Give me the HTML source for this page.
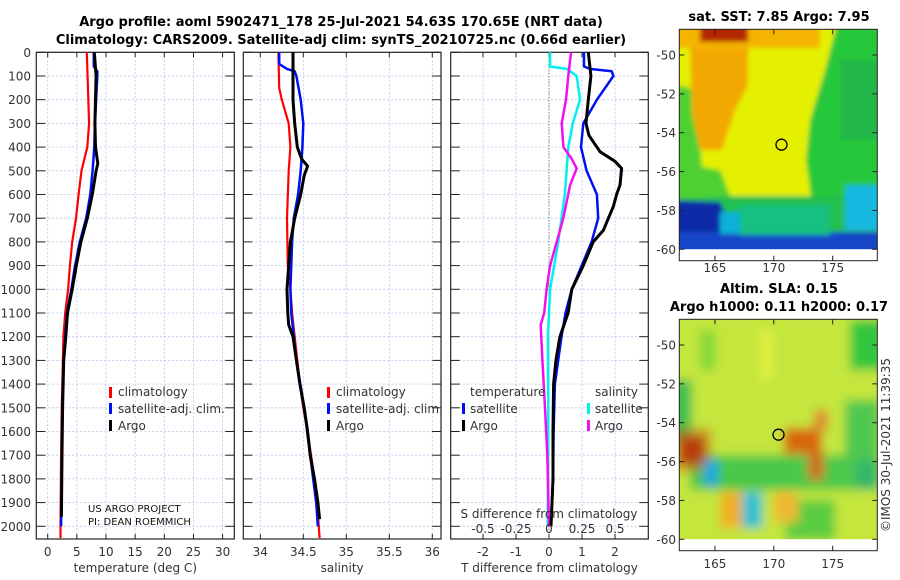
<!DOCTYPE html>
<html><head><meta charset="utf-8">
<style>
html,body{margin:0;padding:0;background:#fff;}
svg{display:block;font-family:"DejaVu Sans","Liberation Sans",sans-serif;}
.tk{font-size:12px;fill:#333;}
.ttl{font-size:13px;font-weight:bold;fill:#000;}
</style></head>
<body>
<svg id="chart" width="900" height="580" viewBox="0 0 900 580">
<defs>
<filter id="blur1" filterUnits="userSpaceOnUse" x="650" y="0" width="250" height="580"><feGaussianBlur stdDeviation="2.5"/></filter>
<filter id="blur2" filterUnits="userSpaceOnUse" x="650" y="0" width="250" height="580"><feGaussianBlur stdDeviation="5"/></filter>
<clipPath id="clipTop"><rect x="679.3" y="29.3" width="198" height="220"/></clipPath>
<clipPath id="clipBot"><rect x="679.3" y="319.3" width="198" height="220"/></clipPath>
</defs>
<text class="ttl" x="341" y="26" text-anchor="middle">Argo profile: aoml 5902471_178 25-Jul-2021 54.63S 170.65E (NRT data)</text>
<text class="ttl" x="341" y="44" text-anchor="middle">Climatology: CARS2009. Satellite-adj clim: synTS_20210725.nc (0.66d earlier)</text>

<g>
<g clip-path="url(#clipTop)">
<g filter="url(#blur1)">
<rect x="670" y="20" width="220" height="240" fill="#e4f000"/>
<polygon points="838,20 890,20 890,205 812,205 806,160 810,120 825,70" fill="#28c83a"/>
<rect x="840" y="60" width="40" height="80" fill="#20b848"/>
<rect x="670" y="196" width="220" height="70" fill="#22c050"/>
<polygon points="670,83 696,90 702,167 720,170 730,196 670,200" fill="#50d030"/>
<polygon points="690,40 748,40 748,85 735,110 722,150 700,150 692,115" fill="#f2a800"/>
<rect x="670" y="20" width="150" height="28" fill="#f4b400"/>
<rect x="700" y="20" width="48" height="22" fill="#b42800"/>
<polygon points="670,200 720,202 730,222 720,262 670,262" fill="#0a2aa8"/>
<rect x="670" y="232" width="220" height="30" fill="#1844c8"/>
<rect x="720" y="212" width="45" height="22" fill="#08b0d8"/>
<rect x="845" y="185" width="40" height="45" fill="#14b8e0"/>
<rect x="740" y="205" width="90" height="30" fill="#18c080"/>
</g>
<rect x="679.3" y="249.3" width="198" height="12" fill="#fff"/>
</g>
<rect x="679.3" y="29.3" width="198" height="231.4" fill="none" stroke="#222" stroke-width="1"/>
<circle cx="781.5" cy="144.7" r="5.5" fill="none" stroke="#000" stroke-width="1.3"/>
<text class="ttl" x="779" y="21" text-anchor="middle">sat. SST: 7.85 Argo: 7.95</text>
</g>

<g>
<g clip-path="url(#clipBot)">
<g filter="url(#blur2)">
<rect x="670" y="310" width="220" height="240" fill="#c4e63c"/>
<rect x="850" y="320" width="35" height="50" fill="#30c640"/>
<rect x="670" y="380" width="22" height="60" fill="#40c050"/>
<rect x="690" y="455" width="190" height="35" fill="#48c848"/>
<rect x="845" y="400" width="35" height="80" fill="#50c850"/>
<rect x="855" y="460" width="25" height="30" fill="#30b868"/>
<rect x="785" y="500" width="50" height="40" fill="#5ccc40"/>
<rect x="700" y="330" width="15" height="40" fill="#80d838"/>
<rect x="760" y="330" width="12" height="50" fill="#e0f040"/>
<rect x="679" y="436" width="26" height="28" fill="#a01800"/>
<rect x="672" y="428" width="40" height="44" fill="#d06010" opacity="0.5"/>
<rect x="784" y="428" width="38" height="26" fill="#d86810"/>
<rect x="808" y="452" width="16" height="28" fill="#d07020"/>
<rect x="814" y="410" width="14" height="20" fill="#e08830"/>
<rect x="720" y="492" width="26" height="36" fill="#f0b020"/>
<rect x="774" y="492" width="24" height="30" fill="#f0b830"/>
<rect x="704" y="460" width="14" height="26" fill="#18a8e0"/>
<rect x="742" y="492" width="20" height="36" fill="#28c0d0"/>
</g>
<rect x="679.3" y="539.3" width="198" height="12" fill="#fff"/>
</g>
<rect x="679.3" y="319.3" width="198" height="231.4" fill="none" stroke="#222" stroke-width="1"/>
<circle cx="778.5" cy="434.7" r="5.5" fill="none" stroke="#000" stroke-width="1.3"/>
<text class="ttl" x="779" y="293" text-anchor="middle">Altim. SLA: 0.15</text>
<text class="ttl" x="779" y="311" text-anchor="middle">Argo h1000: 0.11 h2000: 0.17</text>
</g>
<text class="tk" transform="translate(890,445) rotate(-90)" text-anchor="middle">©IMOS 30-Jul-2021 11:39:35</text>
<g id="layer"></g>
</svg>
<script>
const depthTicks=[0,100,200,300,400,500,600,700,800,900,1000,1100,1200,1300,1400,1500,1600,1700,1800,1900,2000];
const tTicks=[0,5,10,15,20,25,30];
const sTicks=[34,34.5,35,35.5,36];
const dTTicks=[-2,-1,0,1,2];
const dSTicks=[-0.5,-0.25,0,0.25,0.5];
const dSTickLabels=["-0.5","-0.25","0","0.25","0.5"];
const latTicks=[-50,-52,-54,-56,-58,-60];
const lonTicks=[165,170,175];

const climTDepth=[0,300,400,500,600,700,800,900,1000,1100,1200,1300,1500,1700,2000,2050];
const climT=[6.7,7.1,6.8,5.8,5.3,4.85,4.2,3.8,3.5,3.0,2.7,2.6,2.4,2.3,2.2,2.2];
const satTDepth=[0,60,80,100,200,300,400,500,600,700,800,900,1000,1100,1200,1300,1500,1700,2000];
const satT=[7.9,7.9,8.5,8.5,8.3,8.1,8.0,7.7,7.3,6.6,5.5,4.7,4.05,3.3,3.0,2.75,2.5,2.4,2.3];
const argoTDepth=[0,100,200,300,400,470,500,600,700,800,900,1000,1100,1200,1300,1500,1700,1960];
const argoT=[8.0,8.3,8.2,8.1,8.2,8.6,8.3,7.65,6.8,5.7,4.9,4.2,3.4,3.1,2.75,2.55,2.45,2.35];

const climSDepth=[0,150,200,300,400,500,700,900,1000,1100,1200,1300,1400,1500,1600,1700,1800,1900,2050];
const climS=[34.21,34.22,34.25,34.33,34.35,34.33,34.31,34.32,34.35,34.37,34.40,34.43,34.46,34.50,34.55,34.59,34.63,34.66,34.69];
const satSDepth=[0,50,70,80,100,200,300,400,500,600,700,800,1000,1100,1200,1300,1500,1700,1900,2000];
const satS=[34.22,34.22,34.31,34.40,34.42,34.47,34.50,34.49,34.47,34.44,34.39,34.37,34.35,34.36,34.39,34.42,34.51,34.58,34.65,34.67];
const argoSDepth=[0,200,300,400,450,480,520,600,700,800,900,1000,1100,1150,1200,1300,1400,1500,1600,1700,1800,1900,1970];
const argoS=[34.38,34.38,34.40,34.43,34.48,34.55,34.51,34.47,34.40,34.35,34.33,34.31,34.32,34.33,34.38,34.42,34.46,34.51,34.55,34.58,34.63,34.67,34.69];

const dArgoTDepth=[0,100,200,300,350,420,460,490,560,600,650,700,750,800,900,1000,1100,1200,1300,1400,1600,1800,2000];
const dArgoT=[1.19,1.27,1.19,1.12,1.21,1.55,2.0,2.2,2.15,2.05,1.95,1.8,1.65,1.34,1.04,0.69,0.58,0.33,0.21,0.14,0.12,0.12,0.06];
const dSatTDepth=[0,60,70,80,100,200,300,400,500,600,700,800,900,1000,1100,1200,1400,1600,1800,2000];
const dSatT=[1.06,1.06,1.24,1.9,1.95,1.45,1.04,0.97,1.14,1.45,1.49,1.29,0.99,0.69,0.5,0.38,0.18,0.14,0.12,0.06];
const dArgoSDepth=[0,100,200,300,400,450,490,560,700,800,900,1000,1100,1150,1300,1500,1700,2000];
const dArgoS=[0.167,0.146,0.129,0.096,0.109,0.172,0.21,0.16,0.108,0.058,0.008,-0.018,-0.036,-0.063,-0.05,-0.03,-0.013,0];
const dSatSDepth=[0,60,70,100,200,300,400,600,800,1000,1200,1500,2000];
const dSatS=[0.008,0.008,0.134,0.21,0.235,0.18,0.146,0.12,0.07,0.008,-0.008,-0.005,-0.01];

const NS="http://www.w3.org/2000/svg";
const layer=document.getElementById('layer');
const Y0=52.3, YB=539, PPM=0.237;
const yD=d=>Y0+d*PPM;
const P1={l:36.3,r:234.3,x:v=>47.7+v*5.83};
const P2={l:243.3,r:441,x:v=>260.3+(v-34)*86};
const P3={l:450.7,r:648.3,x:v=>549+v*33};
const xDS=v=>549+v*132;
const lonX=v=>679.3+(v-161.97)*11.77;
const latYTop=v=>55+(-50-v)*19.43;
const latYBot=v=>345+(-50-v)*19.43;

function el(tag,attrs,parent){const e=document.createElementNS(NS,tag);for(const k in attrs)e.setAttribute(k,attrs[k]);(parent||layer).appendChild(e);return e;}

function panel(P,name,xt,xlabels,xtitle){
  const g=el('g',{});
  
  
  depthTicks.forEach(d=>{el('line',{x1:P.l,x2:P.r,y1:yD(d),y2:yD(d),stroke:'#b8c4e8','stroke-width':0.8,'stroke-dasharray':'2,2'},g);
    el('line',{x1:P.l,x2:P.l+9,y1:yD(d),y2:yD(d),stroke:'#222','stroke-width':1},g);
    el('line',{x1:P.r-9,x2:P.r,y1:yD(d),y2:yD(d),stroke:'#222','stroke-width':1},g);});
  xt.forEach((v,i)=>{const x=P.x(v);
    el('line',{x1:x,x2:x,y1:Y0,y2:YB,stroke:'#b8c4e8','stroke-width':0.8,'stroke-dasharray':'2,2'},g);
    el('line',{x1:x,x2:x,y1:YB-5,y2:YB,stroke:'#222','stroke-width':1},g);
    el('line',{x1:x,x2:x,y1:Y0,y2:Y0+5,stroke:'#222','stroke-width':1},g);
    if(xlabels){const t=el('text',{x:x,y:556,'text-anchor':'middle',class:'tk'},g);t.textContent=xlabels[i];}});
  el('rect',{x:P.l,y:Y0,width:P.r-P.l,height:YB-Y0,fill:'none',stroke:'#222','stroke-width':1.2},g);
  const tt=el('text',{x:(P.l+P.r)/2,y:572,'text-anchor':'middle',class:'tk'},g);
  
  
  tt.textContent=xtitle;
  return g;
}
function line(xs,ds,fx,color,w,name,g){
  const pts=xs.map((v,i)=>fx(v).toFixed(1)+','+yD(ds[i]).toFixed(1)).join(' ');
  const p=el('polyline',{points:pts,fill:'none',stroke:color,'stroke-width':w,'stroke-linejoin':'round'},g);
  
  
}
function txt(x,y,s,name,g,anchor){const t=el('text',{x:x,y:y,class:'tk','text-anchor':anchor||'start'},g);t.textContent=s;
  
  
  return t;}
function mark(x,y,c,g){el('rect',{x:x,y:y-10,width:3,height:11,fill:c},g);}

depthTicks.forEach(d=>{txt(31,yD(d)+4.5,String(d),'depth-tick-label',null,'end');});

const g1=panel(P1,'temperature-panel',tTicks,tTicks.map(String),'temperature (deg C)');
line(climT,climTDepth,P1.x,'#f00',2.2,'temperature-climatology-line',g1);
line(satT,satTDepth,P1.x,'#0010f0',2.5,'temperature-satellite-line',g1);
line(argoT,argoTDepth,P1.x,'#000',3,'temperature-argo-line',g1);
const g2=panel(P2,'salinity-panel',sTicks,sTicks.map(String),'salinity');
line(climS,climSDepth,P2.x,'#f00',2.2,'salinity-climatology-line',g2);
line(satS,satSDepth,P2.x,'#0010f0',2.5,'salinity-satellite-line',g2);
line(argoS,argoSDepth,P2.x,'#000',3,'salinity-argo-line',g2);
const g3=panel(P3,'difference-panel',dTTicks,dTTicks.map(String),'T difference from climatology');
el('line',{x1:549,x2:549,y1:Y0,y2:YB,stroke:'#446633','stroke-width':1,'stroke-dasharray':'1,2'},g3);
line(dSatS,dSatSDepth,xDS,'#00f0f0',2.5,'salinity-diff-satellite-line',g3);
line(dArgoS,dArgoSDepth,xDS,'#f010f0',2.5,'salinity-diff-argo-line',g3);
line(dSatT,dSatTDepth,P3.x,'#0010f0',2.5,'temperature-diff-satellite-line',g3);
line(dArgoT,dArgoTDepth,P3.x,'#000',3,'temperature-diff-argo-line',g3);
dSTicks.forEach((v,i)=>txt(xDS(v),533,dSTickLabels[i],'s-diff-tick-label',g3,'middle'));
txt(549,518,'S difference from climatology','s-diff-axis-title',g3,'middle');

[[P1,g1],[P2,g2]].forEach(([P,g])=>{const lx=P===P1?112:330;
  mark(lx-3,397,'#f00',g);txt(lx+6,396,'climatology','legend-climatology',g);
  mark(lx-3,413,'#0010f0',g);txt(lx+6,413,'satellite-adj. clim.','legend-satellite-adj',g);
  mark(lx-3,430,'#000',g);txt(lx+6,430,'Argo','legend-argo',g);});
txt(470,396,'temperature','legend-temperature-header',g3);
mark(462,413,'#0010f0',g3);txt(470,413,'satellite','legend-temperature-satellite',g3);
mark(462,430,'#000',g3);txt(470,430,'Argo','legend-temperature-argo',g3);
txt(595,396,'salinity','legend-salinity-header',g3);
mark(587,413,'#00f0f0',g3);txt(595,413,'satellite','legend-salinity-satellite',g3);
mark(587,430,'#f010f0',g3);txt(595,430,'Argo','legend-salinity-argo',g3);
const f1=el('text',{x:88,y:512,'font-size':'10','fill':'#111'},g1);f1.textContent='US ARGO PROJECT';


const f2=el('text',{x:88,y:525,'font-size':'10','fill':'#111'},g1);f2.textContent='PI: DEAN ROEMMICH';



[[latYTop,29.3,260.7,272],[latYBot,319.3,550.7,568]].forEach(([fy,top,bot,ly])=>{
  latTicks.forEach(v=>{const y=fy(v);
    el('line',{x1:877.3-5,x2:877.3,y1:y,y2:y,stroke:'#222'});
    el('line',{x1:679.3,x2:684.3,y1:y,y2:y,stroke:'#222'});
    txt(676,y+4.5,String(v),'latitude-tick-label',null,'end');});
  lonTicks.forEach(v=>{const x=lonX(v);
    el('line',{x1:x,x2:x,y1:bot-5,y2:bot,stroke:'#222'});
    el('line',{x1:x,x2:x,y1:top,y2:top+5,stroke:'#222'});
    txt(x,ly,String(v),'longitude-tick-label',null,'middle');});
});
</script>
</body></html>
